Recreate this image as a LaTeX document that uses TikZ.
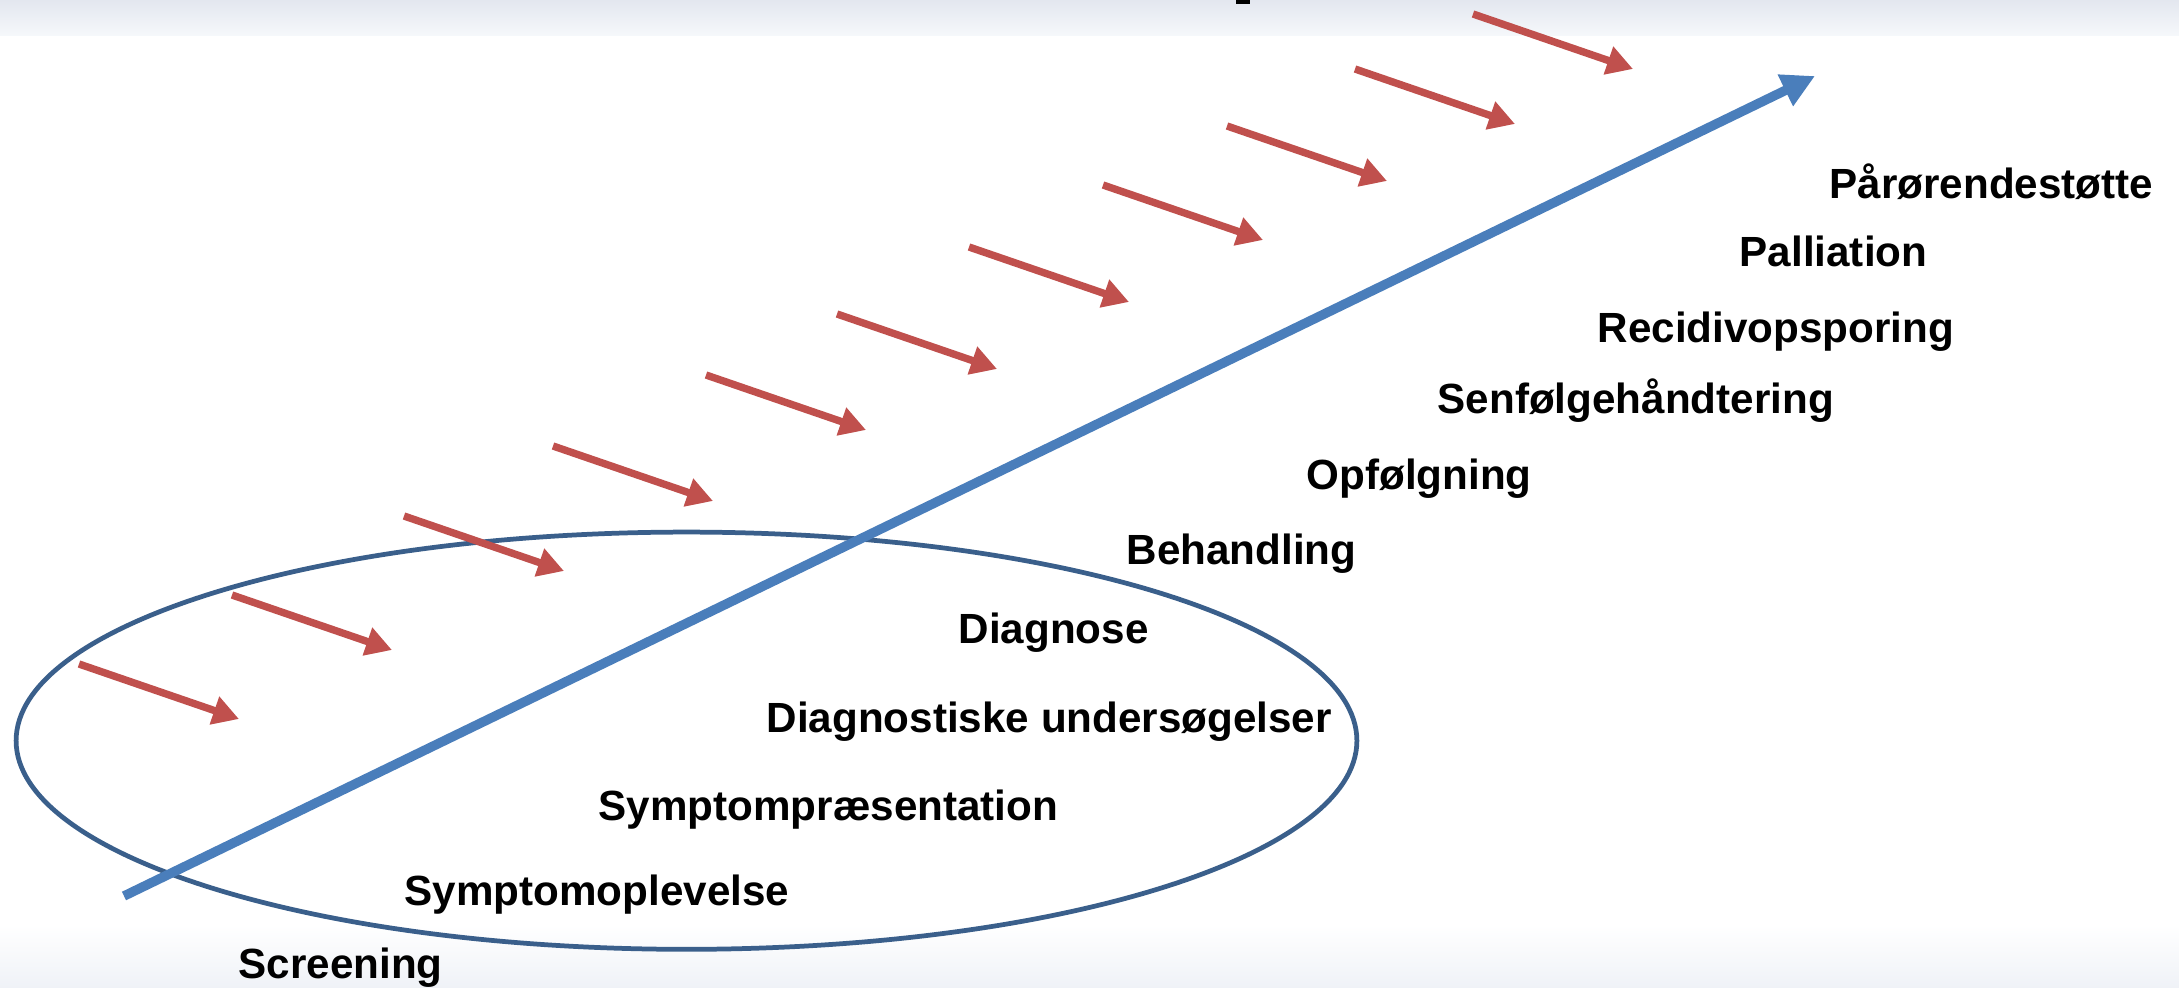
\documentclass[tikz,border=0pt]{standalone}
\usepackage{fontspec}
\setmainfont{Liberation Sans}
\usetikzlibrary{arrows.meta}

\definecolor{pathblue}{HTML}{4A7EBB}
\definecolor{ringblue}{HTML}{3A5F8B}
\definecolor{pushred}{HTML}{C0504D}
\definecolor{bandgray}{HTML}{E3E7EF}
\definecolor{bandpale}{HTML}{F6F8FB}
\definecolor{bandlight}{HTML}{EFF2F7}

\begin{document}
\begin{tikzpicture}[x=0.01cm, y=-0.01cm]
\tikzstyle{phase} = [anchor=base west, inner sep=0pt, font=\fontsize{12}{14}\selectfont\bfseries]
\tikzset{push/.style={pushred, line width=2.1pt, -{Triangle[length=2.6mm, width=2.8mm]}}}
\useasboundingbox (0,0) rectangle (2179,988);
\shade[top color=bandgray, bottom color=bandpale] (0,0) rectangle (2179,36);
\shade[top color=white, bottom color=bandlight] (0,925) rectangle (2179,988);
\fill (1236,0) rectangle (1250,4);
% ring round the first phases
\draw[ringblue, line width=1.35pt] (686.5,740.7) ellipse [x radius=6.70cm, y radius=2.085cm];
% main arrow
\coordinate (start) at (124,896);
\coordinate (end) at (1815,76);
\draw[pathblue, line width=2.7pt, -{Triangle[length=3.3mm, width=3.3mm]}] (start) -- (end);
% red arrows
\foreach \i/\x/\y in {1/79/664, 2/232/595, 3/404/516, 4/553/446, 5/706/375, 6/837/314,
  7/969/247, 8/1103/185, 9/1227/126, 10/1355/69, 11/1473/14} {
  \coordinate (p\i) at (\x,\y);
  \coordinate (q\i) at (\x+160,\y+55);
  \draw[push] (p\i) -- (q\i);
}
% labels
\node[phase] (screening) at (238,978) {Screening};
\node[phase] (oplevelse) at (404,905) {Symptomoplevelse};
\node[phase] (praesent) at (598,820) {Symptompræsentation};
\node[phase] (undersoeg) at (766,732) {Diagnostiske undersøgelser};
\node[phase] (diagnose) at (958,643) {Diagnose};
\node[phase] (behandling) at (1126,564) {Behandling};
\node[phase] (opfoelg) at (1306,489) {Opfølgning};
\node[phase] (senfoelge) at (1437,413) {Senfølgehåndtering};
\node[phase] (recidiv) at (1597,342) {Recidivopsporing};
\node[phase] (palliation) at (1739,267) {Palliation};
\node[phase] (paaroer) at (1829,199) {Pårørendestøtte};
\end{tikzpicture}
\end{document}
